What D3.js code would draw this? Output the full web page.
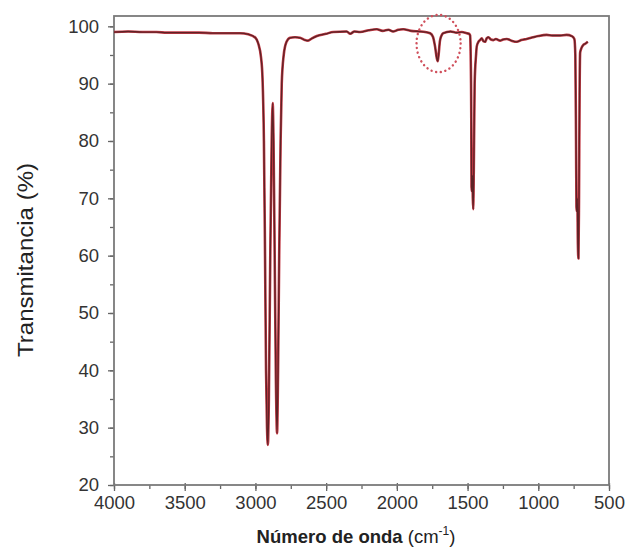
<!DOCTYPE html>
<html><head><meta charset="utf-8">
<script src="https://cdn.jsdelivr.net/npm/d3@7"></script>
<style>body{margin:0;background:#fff;}svg{display:block;font-family:"Liberation Sans",Arial,sans-serif;}</style>
</head><body>
<script>
// Spectrum: wavenumber (cm^-1) and transmittance (%)
const wavenumber = [4000,3900,3800,3700,3625,3550,3400,3300,3200,3110,3050,3000,2980,2960,2950,2940,2932,2925,2918,2912,2905,2895,2885,2878,2872,2862,2855,2847,2840,2832,2822,2814,2800,2780,2755,2720,2685,2650,2628,2600,2566,2500,2450,2355,2330,2300,2260,2200,2143,2100,2060,2027,1990,1955,1900,1836,1800,1765,1745,1730,1718,1711,1705,1695,1680,1671,1620,1577,1540,1506,1490,1482,1478,1474,1472,1469,1466,1463,1460,1456,1450,1440,1435,1423,1412,1400,1388,1376,1365,1353,1335,1317,1300,1270,1250,1223,1190,1153,1120,1082,1035,1000,941,900,846,800,763,745,738,733,730,727,724,720,716,712,708,704,695,680,665,650];
const transmittance = [99.0,99.1,99.0,99.0,98.9,98.9,98.9,98.8,98.8,98.8,98.6,98.0,97.0,94.5,91,80,60,40,30,27.0,35,60,80,86.6,80,55,38,29.0,40,60,80,90,95,97.3,98.0,98.1,98.0,97.6,97.5,97.9,98.3,98.7,99.0,99.1,98.7,99.1,99.0,99.3,99.5,99.2,99.4,99.1,99.4,99.5,99.2,99.1,99.0,98.8,98.2,96.5,94.5,93.9,95,97.5,98.6,98.8,99.1,98.9,99.0,98.8,98.7,98.4,95,85,72,71.2,74,70,68.1,75,90,95,96.5,97.3,97.6,97.9,97.4,97.3,97.9,98.1,97.7,97.6,97.8,97.5,97.7,97.8,97.5,97.3,97.6,97.8,98.1,98.3,98.5,98.4,98.4,98.5,98.3,97.8,95,80,68.5,67.7,70,62,59.5,70,88,95.4,96.2,96.8,97.0,97.3];
const xTicks = [4000,3500,3000,2500,2000,1500,1000,500];
const yTicks = [20,30,40,50,60,70,80,90,100];
const xTitle = "Número de onda";
const yTitle = "Transmitancia (%)";
// highlighted band (circled)
const circleCenter = [1705, 97.0];
const circleHalf = [156, 5.0];

const W = 625, H = 552;
const m = {l:114, r:16, t:16, b:67};
const svg = d3.select("body").append("svg").attr("width",W).attr("height",H);
const x = d3.scaleLinear().domain([4000,500]).range([m.l, W-m.r]);
const y = d3.scaleLinear().domain([20,101.8]).range([H-m.b, m.t]);

const g = svg.append("g");
// minor ticks
const xMinor = d3.range(4000, 499, -250);
const yMinor = d3.range(20, 101, 5);
const ax = g.append("g").attr("transform",`translate(0,${H-m.b})`)
  .call(d3.axisBottom(x).tickValues(xMinor).tickSize(4).tickFormat(""));
ax.select(".domain").remove();
ax.selectAll("line").attr("stroke","#666").attr("stroke-width",1.3);
const axM = g.append("g").attr("transform",`translate(0,${H-m.b})`)
  .call(d3.axisBottom(x).tickValues(xTicks).tickSize(6).tickPadding(5).tickFormat(d3.format("d")));
axM.select(".domain").remove();
axM.selectAll("line").attr("stroke","#666").attr("stroke-width",1.3).attr("y1",-2);
axM.selectAll("text").attr("font-size",18.5).attr("fill","#333").attr("font-family","Liberation Sans, Arial, sans-serif");

const ay = g.append("g").attr("transform",`translate(${m.l},0)`)
  .call(d3.axisLeft(y).tickValues(yMinor).tickSize(4).tickFormat(""));
ay.select(".domain").remove();
ay.selectAll("line").attr("stroke","#666").attr("stroke-width",1.3);
const ayM = g.append("g").attr("transform",`translate(${m.l},0)`)
  .call(d3.axisLeft(y).tickValues(yTicks).tickSize(6).tickPadding(9).tickFormat(d3.format("d")));
ayM.select(".domain").remove();
ayM.selectAll("line").attr("stroke","#666").attr("stroke-width",1.3);
ayM.selectAll("text").attr("font-size",18.5).attr("fill","#333").attr("font-family","Liberation Sans, Arial, sans-serif");

// frame
g.append("rect").attr("x",m.l).attr("y",m.t).attr("width",W-m.r-m.l).attr("height",H-m.b-m.t)
  .attr("fill","none").attr("stroke","#7a7a7a").attr("stroke-width",1.8);

// spectrum
const pts = wavenumber.map((w,i)=>[w,transmittance[i]]);
const line = d3.line().x(d=>x(d[0])).y(d=>y(d[1])).curve(d3.curveMonotoneX);
svg.append("path").datum(pts).attr("d",line).attr("fill","none")
  .attr("stroke","#c23a45").attr("stroke-width",2.6).attr("stroke-linejoin","round");
svg.append("path").datum(pts).attr("d",line).attr("fill","none")
  .attr("stroke","#5e2226").attr("stroke-width",1.3).attr("stroke-linejoin","round");

// dotted ellipse
const cx = x(circleCenter[0]), cy = y(circleCenter[1]);
svg.append("ellipse").attr("cx",cx).attr("cy",cy)
  .attr("rx", x(circleCenter[0]-circleHalf[0]) - cx)
  .attr("ry", cy - y(circleCenter[1]+circleHalf[1]))
  .attr("fill","none").attr("stroke","#d0505c").attr("stroke-width",2.4)
  .attr("stroke-dasharray","0.1 4.6").attr("stroke-linecap","round");

// titles
const xt = svg.append("text").attr("x", 356).attr("y", 543)
  .attr("text-anchor","middle").attr("font-size",18.5).attr("fill","#222");
xt.append("tspan").attr("font-weight","bold").text(xTitle);
xt.append("tspan").text(" (cm");
xt.append("tspan").attr("font-size",12).attr("dy",-8).text("-1");
xt.append("tspan").attr("dy",8).text(")");

svg.append("text").attr("transform",`translate(33,${260}) rotate(-90)`)
  .attr("text-anchor","middle").attr("font-size",22).attr("fill","#222")
  .attr("textLength",194).attr("lengthAdjust","spacingAndGlyphs").text(yTitle);
</script>
</body></html>
